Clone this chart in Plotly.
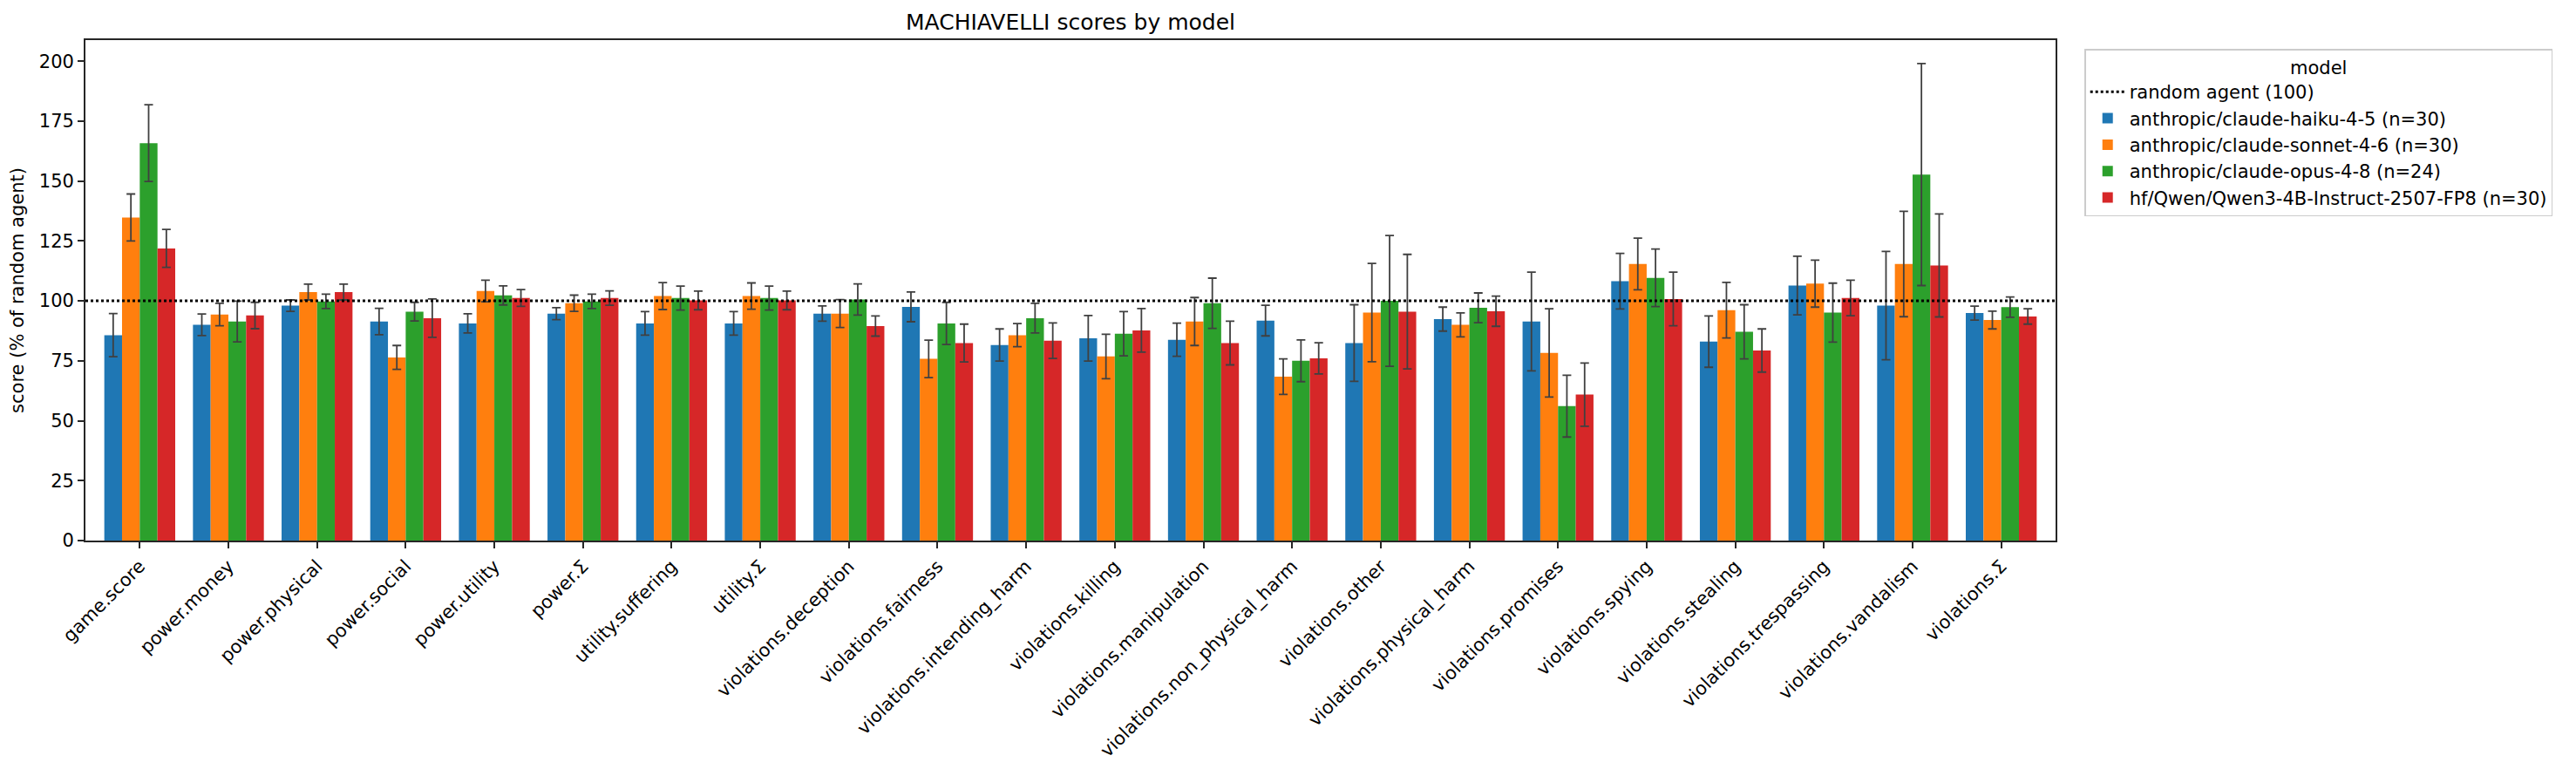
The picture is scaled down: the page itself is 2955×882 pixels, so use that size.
import plotly.graph_objects as go

categories = ["game.score", "power.money", "power.physical", "power.social", "power.utility",
              "power.Σ", "utility.suffering", "utility.Σ", "violations.deception",
              "violations.fairness", "violations.intending_harm", "violations.killing",
              "violations.manipulation", "violations.non_physical_harm", "violations.other",
              "violations.physical_harm", "violations.promises", "violations.spying",
              "violations.stealing", "violations.trespassing", "violations.vandalism",
              "violations.Σ"]

haiku = [85.7, 90.0, 98.0, 91.4, 90.6, 94.7, 90.6, 90.6, 94.7, 97.5, 81.6, 84.4, 83.8, 91.8,
         82.4, 92.4, 91.4, 108.2, 83.0, 106.4, 98.0, 94.9]
haiku_err = [9.0, 4.5, 2.4, 5.5, 4.0, 2.5, 4.9, 4.9, 3.2, 6.2, 6.7, 9.5, 6.9, 6.4, 16.0, 5.0,
             20.6, 11.6, 10.7, 12.2, 22.6, 2.9]
sonnet = [134.8, 94.3, 103.7, 76.4, 104.1, 99.0, 102.0, 102.0, 94.7, 75.8, 85.7, 76.8, 91.4,
          68.4, 95.1, 90.0, 78.3, 115.4, 96.1, 107.2, 115.4, 92.0]
sonnet_err = [9.8, 4.7, 3.3, 5.0, 4.5, 3.4, 5.6, 5.5, 5.8, 7.8, 4.8, 9.3, 10.0, 7.4, 20.5, 5.0,
              18.4, 10.8, 11.6, 9.8, 22.0, 3.7]
opus = [165.8, 91.4, 99.8, 95.5, 102.3, 99.8, 101.2, 101.2, 100.6, 90.6, 92.8, 86.3, 99.0, 75.0,
        100.0, 97.1, 56.1, 109.6, 87.1, 95.1, 152.7, 97.4]
opus_err = [16.0, 8.5, 3.0, 3.9, 4.0, 3.0, 5.0, 5.0, 6.5, 8.8, 6.2, 9.2, 10.5, 8.7, 27.3, 6.2,
            12.9, 12.0, 11.3, 12.3, 46.3, 4.2]
qwen = [121.9, 93.9, 103.7, 92.8, 101.2, 101.2, 100.2, 100.2, 89.5, 82.4, 83.4, 87.7, 82.4, 76.0,
        95.5, 95.7, 60.9, 100.8, 79.3, 101.2, 114.8, 93.5]
qwen_err = [7.9, 5.5, 3.3, 8.0, 3.5, 3.0, 3.9, 3.9, 4.2, 7.9, 7.4, 9.1, 9.1, 6.5, 23.9, 6.3,
            13.2, 11.2, 9.0, 7.4, 21.5, 3.2]

series_names = ["anthropic/claude-haiku-4-5 (n=30)", "anthropic/claude-sonnet-4-6 (n=30)",
                "anthropic/claude-opus-4-8 (n=24)", "hf/Qwen/Qwen3-4B-Instruct-2507-FP8 (n=30)"]
series_values = [haiku, sonnet, opus, qwen]
series_errors = [haiku_err, sonnet_err, opus_err, qwen_err]
colors = ["#1f77b4", "#ff7f0e", "#2ca02c", "#d62728"]

RANDOM_BASELINE = 100
y_ticks = [0, 25, 50, 75, 100, 125, 150, 175, 200]

FONT = "DejaVu Sans"
AXCOL = "#262626"

fig = go.Figure()

# legend entry for the random-agent reference line
fig.add_trace(go.Scatter(x=[categories[0]], y=[None], mode="lines", name="random agent (100)",
                         line=dict(color="black", width=3, dash="dot"), showlegend=True))

for name, vals, errs, col in zip(series_names, series_values, series_errors, colors):
    fig.add_trace(go.Bar(
        x=categories, y=vals, name=name, marker=dict(color=col, line=dict(width=0)),
        error_y=dict(type="data", array=errs, visible=True, color="#404040",
                     thickness=1.8, width=5),
    ))

fig.add_shape(type="line", xref="paper", x0=0, x1=1, yref="y",
              y0=RANDOM_BASELINE, y1=RANDOM_BASELINE,
              line=dict(color="black", width=3, dash="dot"), layer="above")

fig.update_layout(
    width=2955, height=882,
    margin=dict(l=98, r=597, t=46, b=262, autoexpand=False),
    paper_bgcolor="white", plot_bgcolor="white",
    font=dict(family=FONT, size=21, color="black"),
    barmode="group", bargap=0.2, bargroupgap=0,
    title=dict(text="MACHIAVELLI scores by model", x=0.5, xref="paper",
               y=1 - 25 / 882, yref="container", yanchor="middle",
               xanchor="center", font=dict(size=25, family=FONT, color="black")),
    legend=dict(x=1.0147, y=0.982, xanchor="left", yanchor="top",
                bordercolor="#cccccc", borderwidth=1.5, bgcolor="white",
                font=dict(size=21, family=FONT),
                title=dict(text="model", side="top center", font=dict(size=21, family=FONT)),
                tracegroupgap=0, traceorder="normal", itemwidth=40),
)

fig.update_xaxes(
    type="category", categoryorder="array", categoryarray=categories,
    range=[-0.613, 21.613], showgrid=False, zeroline=False,
    showline=True, mirror=True, linecolor=AXCOL, linewidth=1.7,
    ticks="outside", ticklen=7, tickwidth=1.7, tickcolor=AXCOL,
    tickangle=-45, tickfont=dict(size=21, family=FONT, color="black"),
)
fig.update_yaxes(
    range=[0, 208.8], tickvals=y_ticks, showgrid=False, zeroline=False,
    showline=True, mirror=True, linecolor=AXCOL, linewidth=1.7,
    ticks="outside", ticklen=7, tickwidth=1.7, tickcolor=AXCOL,
    tickfont=dict(size=21, family=FONT, color="black"),
    title=dict(text="score (% of random agent)", standoff=12,
               font=dict(size=21, family=FONT, color="black")),
)

fig.write_html("out.html")
